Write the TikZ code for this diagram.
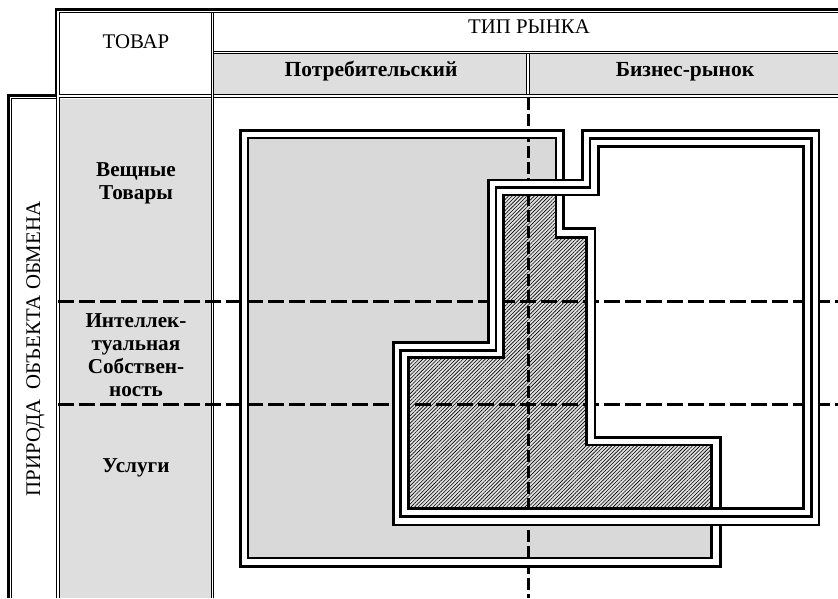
\documentclass[tikz,border=0pt]{standalone}
\usepackage{fontspec}
\setmainfont{Liberation Serif}
\usetikzlibrary{patterns.meta}
\definecolor{hdrgray}{RGB}{222,222,222}
\definecolor{consgray}{RGB}{217,217,217}
\definecolor{hatchbg}{RGB}{225,225,225}
\tikzset{
  thickrule/.style={line width=2.5pt},
  thinrule/.style={line width=1pt},
  bandline/.style={line width=2.9pt, line join=miter},
  dashH/.style={line width=3pt, dash pattern=on 16pt off 5pt},
  dashV/.style={line width=3pt, dash pattern=on 12pt off 4pt},
  hdr/.style={font=\fontsize{20.8}{24}\selectfont, inner sep=0pt},
  bhdr/.style={font=\fontsize{21.5}{24}\selectfont\bfseries, inner sep=0pt},
  rowlab/.style={font=\fontsize{21.2}{23}\selectfont\bfseries, align=center, inner sep=0pt},
  hatched/.style={fill=hatchbg, postaction={pattern={Lines[angle=45,distance=2.6pt,line width=0.6pt]}, pattern color=black}}
}
\def\consOuter{(240.7,130.3) -- (563.5,130.3) -- (563.5,228.7) -- (595,228.7) -- (595,437.7) -- (720.7,437.7) -- (720.7,566.3) -- (240.7,566.3) -- cycle}
\def\consInner{(248,138) -- (556,138) -- (556,237.7) -- (586.7,237.7) -- (586.7,445) -- (711.7,445) -- (711.7,558) -- (248,558) -- cycle}
\def\busOuter{(582.3,130.7) -- (819,130.7) -- (819,525) -- (393.3,525) -- (393.3,342.7) -- (488.3,342.7) -- (488.3,180) -- (582.3,180) -- cycle}
\def\busMiddle{(590,138.5) -- (811.7,138.5) -- (811.7,516.7) -- (400.7,516.7) -- (400.7,350.3) -- (496,350.3) -- (496,187.5) -- (590,187.5) -- cycle}
\def\busInner{(598.7,146.3) -- (803.3,146.3) -- (803.3,508.3) -- (408.7,508.3) -- (408.7,357.7) -- (503.3,357.7) -- (503.3,195) -- (598.7,195) -- cycle}
\begin{document}
\begin{tikzpicture}[x=1pt,y=-1pt]
\useasboundingbox (0,0) rectangle (838,598);
% --- table fills
\fill[hdrgray] (214,54) rectangle (526,94);
\fill[hdrgray] (530,54) rectangle (838,94);
\fill[hdrgray] (60,98.5) rectangle (211,598);
% --- table rules
\draw[thickrule] (55,9.5) -- (838,9.5);
\draw[thinrule] (59,12.2) -- (838,12.2);
\draw[thickrule] (56,8.3) -- (56,95);
\draw[thinrule] (59.2,12.2) -- (59.2,94.5);
\draw[thinrule] (59.2,94.5) -- (211.5,94.5);
\draw[thinrule] (59.2,97.6) -- (211.5,97.6);
\draw[thinrule] (211.5,12.2) -- (211.5,598);
\draw[thinrule] (213.5,12.2) -- (213.5,598);
\draw[thinrule] (213.5,51.5) -- (838,51.5);
\draw[thinrule] (213.5,53.5) -- (838,53.5);
\draw[thinrule] (213.5,94.5) -- (838,94.5);
\draw[thinrule] (213.5,97.6) -- (838,97.6);
\draw[thinrule] (526.5,53.5) -- (526.5,94.5);
\draw[thinrule] (529.5,53.5) -- (529.5,94.5);
\draw[thickrule] (7,95.3) -- (57,95.3);
\draw[thinrule] (11.8,98) -- (56,98);
\draw[thickrule] (8.3,94.3) -- (8.3,598);
\draw[thinrule] (11.8,98) -- (11.8,598);
\draw[thinrule] (56,95) -- (56,598);
\draw[thinrule] (59.2,97.6) -- (59.2,598);
% --- consumer region fill
\fill[consgray] \consInner;
% --- business interior
\fill[white] \busInner;
\begin{scope}
  \clip \busInner;
  \fill[hatched] \consInner;
\end{scope}
% --- dashed grid
\draw[dashH] (58,301.3) -- (838,301.3);
\draw[dashH] (58,404.7) -- (838,404.7);
\draw[dashV] (528,98) -- (528,598);
% --- consumer border (double)
\fill[white, even odd rule] \consOuter \consInner;
\draw[bandline] \consOuter;
\draw[bandline] \consInner;
% --- business border (triple)
\fill[white, even odd rule] \busOuter \busInner;
\draw[bandline] \busOuter;
\draw[bandline] \busMiddle;
\draw[bandline] \busInner;
% --- texts
\node[hdr] (tovar) at (136,42) {ТОВАР};
\node[hdr] (tiprynka) at (529,27) {ТИП РЫНКА};
\node[bhdr] (potr) at (371,71.5) {Потребительский};
\node[bhdr] (biz) at (685,71.5) {Бизнес-рынок};
\node[rowlab] (veshch) at (136,183) {Вещные\\Товары};
\node[rowlab] (intel) at (136,355) {Интеллек-\\туальная\\Собствен-\\ность};
\node[rowlab] (uslugi) at (136,468) {Услуги};
\node[hdr, rotate=90] (priroda) at (35.5,349) {ПРИРОДА\ \ ОБЪЕКТА ОБМЕНА};
\end{tikzpicture}
\end{document}
